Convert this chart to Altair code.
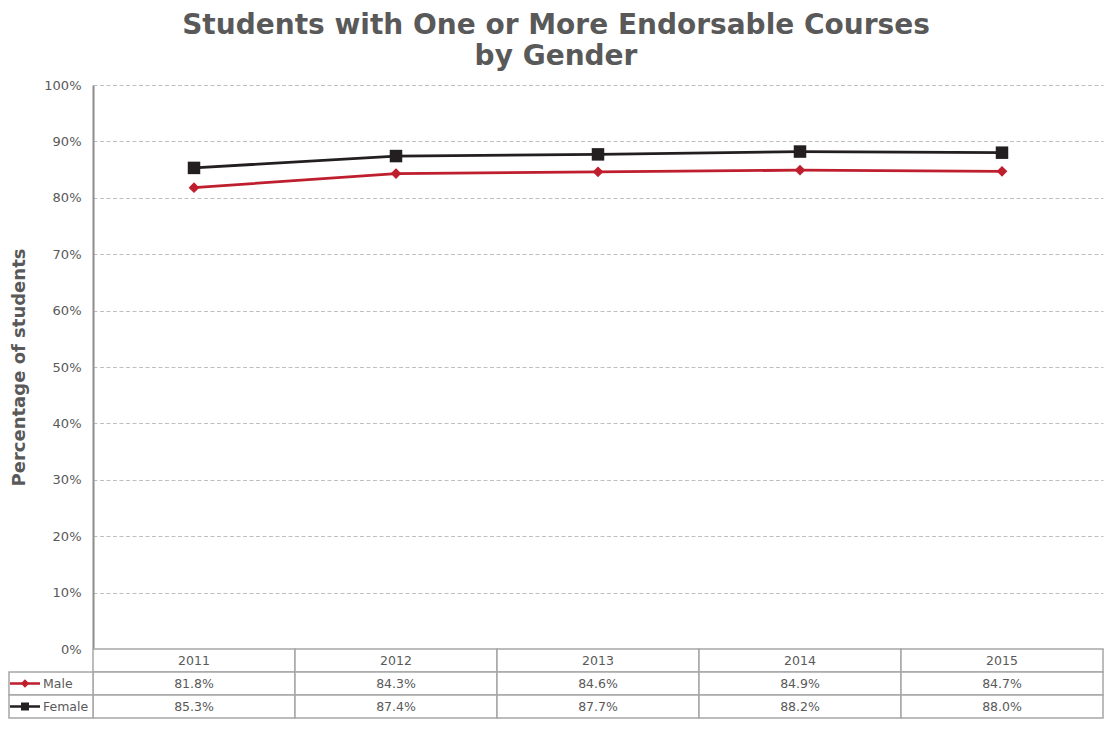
import altair as alt
import pandas as pd

years = ["2011", "2012", "2013", "2014", "2015"]
male = [81.8, 84.3, 84.6, 84.9, 84.7]
female = [85.3, 87.4, 87.7, 88.2, 88.0]
series = ["Male", "Female"]
colors = ["#BE1E2D", "#231F20"]
shapes = ["diamond", "square"]
y_ticks = list(range(0, 101, 10))
title_lines = ["Students with One or More Endorsable Courses", "by Gender"]
y_title = "Percentage of students"

FONT = "DejaVu Sans"
GREY = "#595959"
BORDER = "#A6A6A6"
W = 1010
H = 564
ROWS_H = 69

line_df = pd.DataFrame({
    "Year": years * 2,
    "Series": ["Male"] * len(years) + ["Female"] * len(years),
    "Value": male + female,
})

color_scale = alt.Scale(domain=series, range=colors)
shape_scale = alt.Scale(domain=series, range=shapes)

base = alt.Chart(line_df).encode(
    x=alt.X("Year:O", scale=alt.Scale(type="point", domain=years, padding=0.5), axis=None),
    y=alt.Y("Value:Q", scale=alt.Scale(domain=[0, 100]),
            axis=alt.Axis(values=y_ticks, labelExpr="datum.value + '%'", title=y_title,
                          titleFont=FONT, titleFontSize=18, titleFontWeight="bold", titleColor=GREY,
                          titlePadding=15, labelFont=FONT, labelFontSize=13, labelColor=GREY,
                          labelPadding=12, ticks=False, domainColor="#8C8C8C", domainWidth=2,
                          gridColor="#BFBFBF", gridDash=[4, 2.5], gridWidth=1)),
    color=alt.Color("Series:N", scale=color_scale, legend=None),
)
lines = base.mark_line(strokeWidth=2.8)
pts = base.mark_point(filled=True, opacity=1).encode(
    shape=alt.Shape("Series:N", scale=shape_scale, legend=None),
    size=alt.condition(alt.datum.Series == "Male", alt.value(115), alt.value(156)),
)
main = alt.layer(lines, pts).properties(width=W, height=H)

# data table
rows = ["Year"] + series
tab_records = []
for i, yr in enumerate(years):
    tab_records.append({"Year": yr, "Row": "Year", "Label": yr})
    tab_records.append({"Year": yr, "Row": "Male", "Label": f"{male[i]:.1f}%"})
    tab_records.append({"Year": yr, "Row": "Female", "Label": f"{female[i]:.1f}%"})
tab_df = pd.DataFrame(tab_records)

xs = alt.Scale(type="band", domain=years, paddingInner=0, paddingOuter=0)
ys = alt.Scale(type="band", domain=rows, paddingInner=0, paddingOuter=0)

tbase = alt.Chart(tab_df)
cells = tbase.mark_rect(fill="white", stroke=BORDER, strokeWidth=1.5).encode(
    x=alt.X("Year:O", scale=xs, axis=None),
    y=alt.Y("Row:O", scale=ys, axis=None),
)
texts = tbase.mark_text(font=FONT, fontSize=12.5, color=GREY).encode(
    x=alt.X("Year:O", scale=xs, axis=None, bandPosition=0.5),
    y=alt.Y("Row:O", scale=ys, axis=None, bandPosition=0.5),
    text="Label:N",
)

leg_df = pd.DataFrame({"Row": series})
lbase = alt.Chart(leg_df)
leg_rect = lbase.mark_rect(fill="white", stroke=BORDER, strokeWidth=1.5).encode(
    x=alt.value(-84), x2=alt.value(0),
    y=alt.Y("Row:O", scale=ys, axis=None),
)
leg_rule = lbase.mark_rule(strokeWidth=2.5).encode(
    x=alt.value(-83), x2=alt.value(-53),
    y=alt.Y("Row:O", scale=ys, axis=None, bandPosition=0.5),
    color=alt.Color("Row:N", scale=color_scale, legend=None),
)
leg_pt = lbase.mark_point(filled=True, opacity=1).encode(
    x=alt.value(-68),
    y=alt.Y("Row:O", scale=ys, axis=None, bandPosition=0.5),
    color=alt.Color("Row:N", scale=color_scale, legend=None),
    shape=alt.Shape("Row:N", scale=shape_scale, legend=None),
    size=alt.condition(alt.datum.Row == "Male", alt.value(70), alt.value(64)),
)
leg_txt = lbase.mark_text(font=FONT, fontSize=12.5, color=GREY, align="left").encode(
    x=alt.value(-50),
    y=alt.Y("Row:O", scale=ys, axis=None, bandPosition=0.5),
    text="Row:N",
)

table = alt.layer(cells, texts, leg_rect, leg_rule, leg_pt, leg_txt).properties(width=W, height=ROWS_H)

chart = alt.vconcat(main, table, spacing=0, bounds="flush").properties(
    title=alt.TitleParams(text=title_lines, font=FONT, fontSize=28, fontWeight="bold",
                          color=GREY, lineHeight=31, offset=8, anchor="middle"),
    padding={"left": 0, "right": 0, "top": 4, "bottom": 0},
).configure_view(stroke=None)

chart.save("out.html", embed_options={"renderer": "svg", "actions": False})
